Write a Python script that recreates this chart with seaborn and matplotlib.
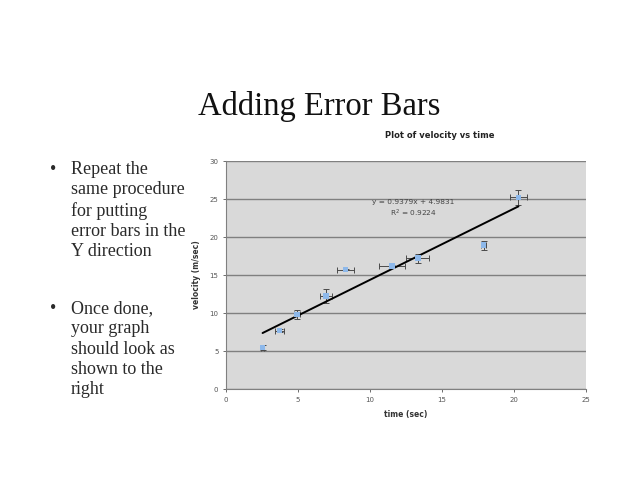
import matplotlib
matplotlib.use('Agg')
import matplotlib.pyplot as plt
import seaborn as sns
import numpy as np
import pandas as pd

# ------------------------
# data
# ------------------------
time_sec = [2.54, 3.72, 4.92, 6.95, 8.31, 11.54, 13.32, 17.89, 20.31]
velocity = [5.45, 7.67, 9.81, 12.25, 15.70, 16.22, 17.22, 18.92, 25.20]
time_err = [0.10, 0.32, 0.20, 0.42, 0.60, 0.90, 0.80, 0.20, 0.62]
vel_err = [0.30, 0.20, 0.65, 0.90, 0.10, 0.15, 0.60, 0.60, 1.00]

slope = 0.9379
intercept = 4.9831
r_squared = 0.9224

x_ticks = [0, 5, 10, 15, 20, 25]
y_ticks = [0, 5, 10, 15, 20, 25, 30]

bullets = [
    "Repeat the\nsame procedure\nfor putting\nerror bars in the\nY direction",
    "Once done,\nyour graph\nshould look as\nshown to the\nright",
]

df = pd.DataFrame({'time': time_sec, 'velocity': velocity})
fit_x = np.array([min(time_sec), max(time_sec)])
fit_df = pd.DataFrame({'time': fit_x, 'velocity': slope * fit_x + intercept})

W, H = 638, 493
sns.set_style('white')
fig = plt.figure(figsize=(W / 100, H / 100), dpi=100)

# ------------------------
# slide text
# ------------------------
serif = ['Liberation Serif', 'DejaVu Serif']
fig.text(319 / W, 1 - 115 / H, 'Adding Error Bars', family=serif, fontsize=23.5,
         ha='center', va='baseline', color='#111111')

block_tops = [161, 300]
for top, txt in zip(block_tops, bullets):
    fig.text(50 / W, 1 - top / H, '\u2022', family=serif, fontsize=13,
             ha='left', va='top', color='#2a2a2a')
    fig.text(71 / W, 1 - top / H, txt, family=serif, fontsize=13,
             ha='left', va='top', linespacing=1.25, color='#2a2a2a')

# ------------------------
# chart
# ------------------------
ax = fig.add_axes([226 / W, 1 - 389 / H, (586 - 226) / W, (389 - 161) / H])
ax.set_facecolor('#d9d9d9')

ax.errorbar(time_sec, velocity, xerr=time_err, yerr=vel_err, fmt='none',
            ecolor='#4a4a4a', elinewidth=0.7, capsize=2.2, capthick=0.7, zorder=3)
sns.lineplot(data=fit_df, x='time', y='velocity', color='black', linewidth=1.4,
             ax=ax, zorder=4)
sns.scatterplot(data=df, x='time', y='velocity', marker='s', s=16, color='#8db8ea',
                edgecolor='none', ax=ax, zorder=5)

ax.set_xlim(0, 25)
ax.set_ylim(0, 30)
ax.set_xticks(x_ticks)
ax.set_yticks(y_ticks)
ax.yaxis.grid(True, color='#808080', linewidth=1.0)
ax.xaxis.grid(False)
ax.set_axisbelow(True)
for s in ['top', 'right']:
    ax.spines[s].set_visible(False)
for s in ['left', 'bottom']:
    ax.spines[s].set_color('#808080')
    ax.spines[s].set_linewidth(0.8)
ax.tick_params(axis='both', which='major', labelsize=5, colors='#555555',
               length=2.5, width=0.6, direction='out', left=True, bottom=True, pad=3)

ax.set_xlabel('time (sec)', fontsize=5.5, fontweight='bold', color='#333333', labelpad=5)
ax.set_ylabel('velocity (m/sec)', fontsize=5.5, fontweight='bold', color='#333333', labelpad=6)

fig.text(440 / W, 1 - 135 / H, 'Plot of velocity vs time', fontsize=6, fontweight='bold',
         ha='center', va='center', color='#222222')

ax.text(13.0, 25.0, f'y = {slope}x + {intercept}\nR$^2$ = {r_squared}',
        fontsize=5.3, color='#444444', ha='center', va='top', linespacing=1.3)

fig.savefig('out.png', dpi=100, facecolor='white')
